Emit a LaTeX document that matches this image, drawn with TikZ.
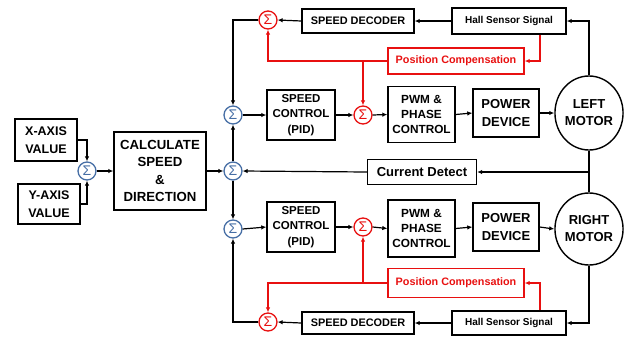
\documentclass[tikz,border=0pt]{standalone}
\usepackage{fontspec}
\setmainfont{Liberation Sans}
\usetikzlibrary{arrows.meta,shapes.geometric}
\definecolor{sumblue}{RGB}{70,110,165}
\definecolor{cred}{RGB}{232,16,16}
\begin{document}
\begin{tikzpicture}[x=1pt,y=-1pt,
  box/.style={draw,line width=1.4pt,align=center,inner sep=0pt,font=\bfseries},
  rbox/.style={box,draw=cred,text=cred},
  bsum/.style={circle,draw=sumblue,fill=white,line width=1.3pt,minimum size=18pt,inner sep=0pt,text=sumblue,font=\fontsize{14}{14}\selectfont},
  rsum/.style={bsum,draw=cred,text=cred},
  arr/.style={line width=1.2pt,-{Latex[length=5pt,width=4.5pt]}},
  ln/.style={line width=1.2pt},
  rarr/.style={arr,draw=cred},
  motor/.style={ellipse,draw,line width=1.4pt,minimum width=64pt,minimum height=74pt,inner sep=0pt,align=center,font=\bfseries\fontsize{13}{17}\selectfont}
]
\useasboundingbox (0,0) rectangle (631,341);
% left part
\node[box,minimum width=62pt,minimum height=42pt,font=\bfseries\fontsize{12.5}{18}\selectfont] (xval) at (46,140) {X-AXIS\\VALUE};
\node[box,minimum width=62pt,minimum height=40pt,font=\bfseries\fontsize{12.5}{18}\selectfont] (yval) at (49,204) {Y-AXIS\\VALUE};
\node[bsum] (s0) at (87,171) {Σ};
\node[box,minimum width=92pt,minimum height=78pt,font=\bfseries\fontsize{13.2}{17.5}\selectfont] (calc) at (160,171) {CALCULATE\\SPEED\\\&\\DIRECTION};
% blue sums
\node[bsum] (su) at (233,115) {Σ};
\node[bsum] (sm) at (233,171) {Σ};
\node[bsum] (sl) at (233,229) {Σ};
% red sums
\node[rsum] (rtop) at (268,20) {Σ};
\node[rsum] (rbot) at (268,322) {Σ};
\node[rsum] (rmt) at (363,115) {Σ};
\node[rsum] (rmb) at (363,227) {Σ};
% decoders and hall
\node[box,minimum width=112pt,minimum height=24pt,font=\bfseries\fontsize{10.9}{12}\selectfont] (dectop) at (358,21) {SPEED DECODER};
\node[box,minimum width=112pt,minimum height=22pt,font=\bfseries\fontsize{10.9}{12}\selectfont] (decbot) at (358,323) {SPEED DECODER};
\node[box,minimum width=114pt,minimum height=26pt,font=\bfseries\fontsize{10}{12}\selectfont] (halltop) at (509,21) {Hall Sensor Signal};
\node[box,minimum width=114pt,minimum height=24pt,font=\bfseries\fontsize{10}{12}\selectfont] (hallbot) at (509,323) {Hall Sensor Signal};
\node[rbox,minimum width=136pt,minimum height=26pt,font=\bfseries\fontsize{10.8}{12}\selectfont] (postop) at (456,61) {Position Compensation};
\node[rbox,minimum width=136pt,minimum height=29pt,font=\bfseries\fontsize{10.8}{12}\selectfont] (posbot) at (456,283) {Position Compensation};
% controllers
\node[box,minimum width=68pt,minimum height=50pt,font=\bfseries\fontsize{11.5}{15.5}\selectfont] (pidtop) at (301,115) {SPEED\\CONTROL\\(PID)};
\node[box,minimum width=68pt,minimum height=50pt,font=\bfseries\fontsize{11.5}{15.5}\selectfont] (pidbot) at (301,227) {SPEED\\CONTROL\\(PID)};
\node[box,minimum width=67pt,minimum height=56pt,font=\bfseries\fontsize{11.8}{15}\selectfont] (pwmtop) at (421.5,114.5) {PWM \&\\PHASE\\CONTROL};
\node[box,minimum width=67pt,minimum height=57pt,font=\bfseries\fontsize{11.8}{15}\selectfont] (pwmbot) at (421.5,228.5) {PWM \&\\PHASE\\CONTROL};
\node[box,minimum width=66pt,minimum height=48pt,font=\bfseries\fontsize{13}{18}\selectfont] (powtop) at (506,113) {POWER\\DEVICE};
\node[box,minimum width=66pt,minimum height=48pt,font=\bfseries\fontsize{13}{18}\selectfont] (powbot) at (506,227) {POWER\\DEVICE};
\node[motor] (lmotor) at (589,113) {LEFT\\MOTOR};
\node[motor,minimum height=72pt] (rmotor) at (589,229) {RIGHT\\MOTOR};
\node[box,minimum width=109pt,minimum height=25pt,font=\bfseries\fontsize{13}{14}\selectfont] (cur) at (422,172) {Current Detect};
% left connections
\draw[arr] (xval.east) -| (s0.north);
\draw[arr] (yval.east) -| (s0.south);
\draw[arr] (s0.east) -- (calc.west);
\draw[arr] (calc.east) -- (sm.west);
\draw[arr] (sm.north) -- (su.south);
\draw[arr] (sm.south) -- (sl.north);
\draw[arr] (cur.west) -- (sm.east);
% top loop
\draw[arr] (lmotor.north) |- (halltop.east);
\draw[arr] (halltop.west) -- (dectop.east);
\draw[arr] (dectop.west) -- (rtop.east);
\draw[arr] (rtop.west) -| (su.north);
\draw[rarr] ([xshift=31pt]halltop.south) |- (postop.east);
\draw[rarr] (postop.west) -| (rtop.south);
\draw[rarr] (rmt.north |- postop.west) -- (rmt.north);
\draw[arr] (su.east) -- (pidtop.west);
\draw[arr] (pidtop.east) -- (rmt.west);
\draw[arr] (rmt.east) -- (pwmtop.west);
\draw[arr] (pwmtop.east) -- (powtop.west);
\draw[arr] (powtop.east) -- (lmotor.west);
% middle
\draw[ln] (lmotor.south) -- (rmotor.north);
\draw[arr] (lmotor.south |- cur.east) -- (cur.east);
% bottom loop
\draw[arr] (rmotor.south) |- (hallbot.east);
\draw[arr] (hallbot.west) -- (decbot.east);
\draw[arr] (decbot.west) -- (rbot.east);
\draw[arr] (rbot.west) -| (sl.south);
\draw[rarr] ([xshift=31pt]hallbot.north) |- (posbot.east);
\draw[rarr] (posbot.west) -| (rbot.north);
\draw[rarr] (rmb.south |- posbot.west) -- (rmb.south);
\draw[arr] (sl.east) -- (pidbot.west);
\draw[arr] (pidbot.east) -- (rmb.west);
\draw[arr] (rmb.east) -- (pwmbot.west);
\draw[arr] (pwmbot.east) -- (powbot.west);
\draw[arr] (powbot.east) -- (rmotor.west);
\end{tikzpicture}
\end{document}
